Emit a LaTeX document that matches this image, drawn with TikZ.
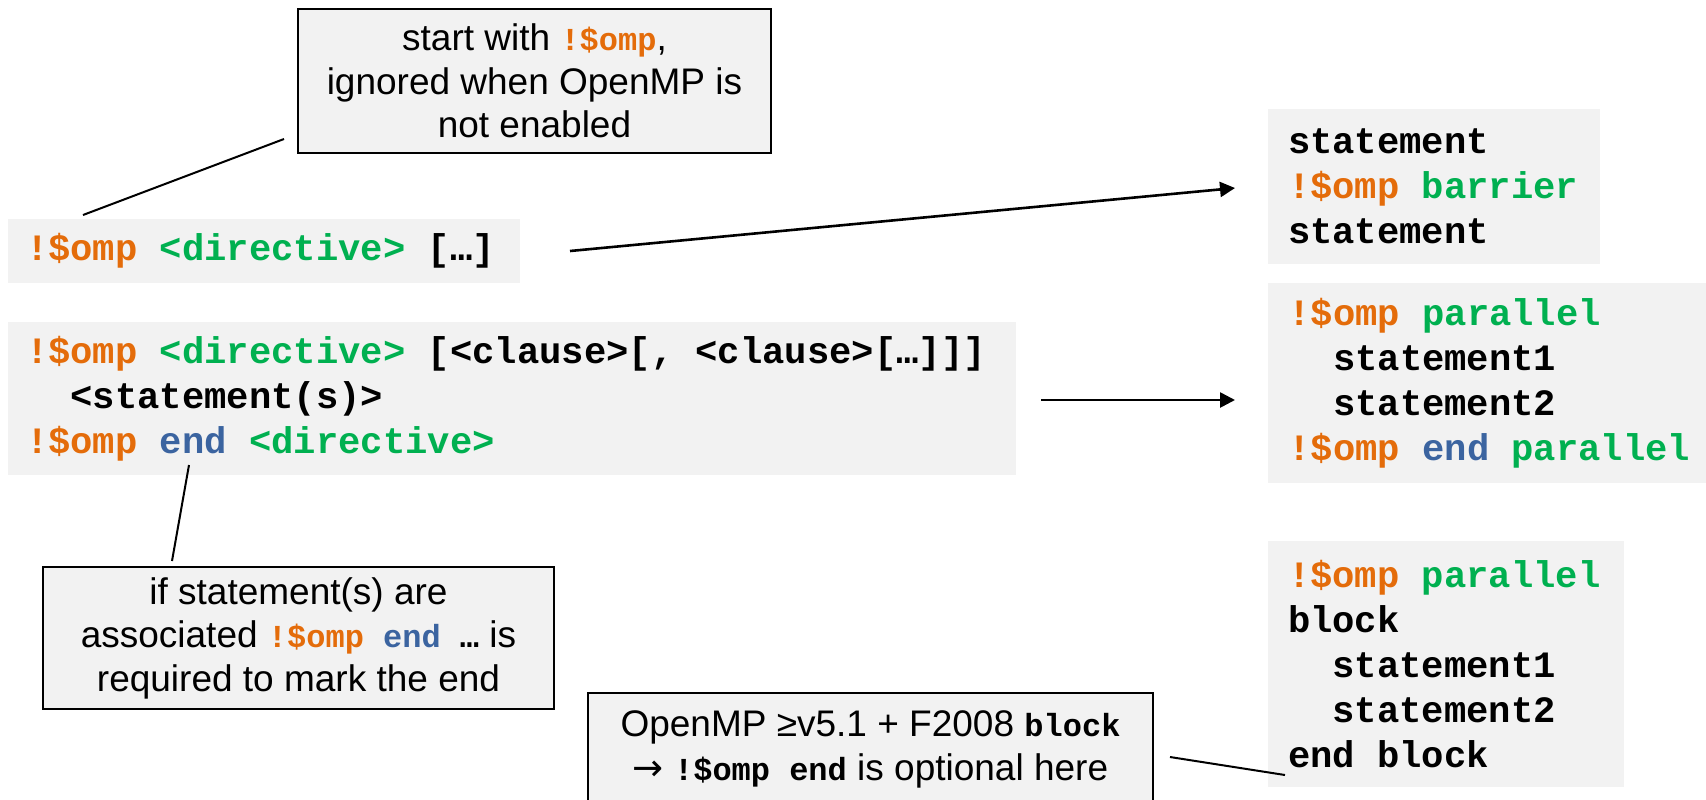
\documentclass[tikz,border=0pt]{standalone}
\usepackage{fontspec}
\setmainfont{Liberation Sans}
\setmonofont{Liberation Mono}
\newfontfamily\arrowfont{DejaVu Sans}
\usetikzlibrary{arrows.meta}

\definecolor{boxgray}{HTML}{F2F2F2}
\definecolor{ompor}{HTML}{E46C0A}
\definecolor{ompgr}{HTML}{00B050}
\definecolor{ompbl}{HTML}{3B64A0}

% sentinel, directive and end keyword colouring
\newcommand\sent{\textcolor{ompor}{!\$omp}}
\newcommand\dirkw[1]{\textcolor{ompgr}{#1}}
\newcommand\kwend{\textcolor{ompbl}{end}}
\newcommand\codeindent{\hspace*{1.2em}}
% monospaced text keeps a full character cell for each space
\newcommand\monospacing{\spaceskip=0.6em\relax\xspaceskip=0.6em\relax}
% inline code inside the explanatory notes
\newcommand\inl[1]{{\fontsize{16}{21.75}\selectfont\ttfamily\bfseries\monospacing #1}}

\tikzset{
  codebox/.style={fill=boxgray, inner xsep=9pt, inner ysep=0pt, align=left,
    font=\fontsize{18.6}{22.5}\selectfont\ttfamily\bfseries,
    execute at begin node=\monospacing},
  notebox/.style={draw=black, line width=1pt, fill=boxgray, align=center,
    inner sep=0pt, font=\fontsize{18.5}{21.75}\selectfont},
  lead/.style={line width=1pt},
  flow/.style={line width=1.3pt, -{Triangle[length=7.5pt,width=7.5pt]}},
}

\begin{document}
\begin{tikzpicture}[x=0.5pt,y=-0.5pt]
\useasboundingbox (0,0) rectangle (1706,799);
\clip (0,0) rectangle (1706,799);

% explanatory notes
\node[notebox, minimum width=236.5pt, minimum height=72pt] (startnote) at (534.5,81)
  {start with \inl{\sent},\\ ignored when OpenMP is\\ not enabled};
\node[notebox, minimum width=255.5pt, minimum height=71pt] (endnote) at (298.5,638)
  {if statement(s) are\\ associated \inl{\sent{} \kwend{} …} is\\ required to mark the end};
\node[notebox, minimum width=282.5pt, minimum height=56.5pt] (blocknote) at (870.5,749.5)
  {OpenMP ≥v5.1 + F2008 \inl{block}\\ {\arrowfont →} \inl{!\$omp end} is optional here};

% general syntax
\node[codebox, minimum width=256pt, minimum height=32pt, text width=238pt] (standalone) at (264,251)
  {\sent{} \dirkw{<directive>} […]};
\node[codebox, minimum width=504pt, minimum height=76.5pt, text width=486pt] (construct) at (512,398.5)
  {\sent{} \dirkw{<directive>} [<clause>[, <clause>[…]]]\\
   \codeindent<statement(s)>\\
   \sent{} \kwend{} \dirkw{<directive>}};

% examples
\node[codebox, inner xsep=10pt, minimum width=166pt, minimum height=77.5pt, text width=146pt] (barrier) at (1434,186.5)
  {statement\\ \sent{} \dirkw{barrier}\\ statement};
\node[codebox, inner xsep=10pt, minimum height=100pt, text width=206pt, anchor=west] (parallel) at (1268,383)
  {\sent{} \dirkw{parallel}\\
   \codeindent statement1\\
   \codeindent statement2\\
   \sent{} \kwend{} \dirkw{parallel}};
\node[codebox, inner xsep=10pt, minimum width=178pt, minimum height=123pt, text width=158pt] (blockex) at (1446,664)
  {\sent{} \dirkw{parallel}\\
   block\\
   \codeindent statement1\\
   \codeindent statement2\\
   end block};

% connector end points
\coordinate (startnote-tail) at (284,139);
\coordinate (standalone-tail) at (83,215);
\coordinate (construct-tail) at (189,465);
\coordinate (endnote-tail) at (172,561);
\coordinate (blocknote-tail) at (1170,757);
\coordinate (blockex-tail) at (1285,775);
\coordinate (standalone-out) at (570,251);
\coordinate (barrier-in) at (1235,188);
\coordinate (construct-out) at (1041,400);
\coordinate (parallel-in) at (1235,400);

% leader lines
\draw[lead] (startnote-tail) -- (standalone-tail);
\draw[lead] (construct-tail) -- (endnote-tail);
\draw[lead] (blocknote-tail) -- (blockex-tail);

% example arrows
\draw[flow] (standalone-out) -- (barrier-in);
\draw[flow] (construct-out) -- (parallel-in);
\end{tikzpicture}
\end{document}
